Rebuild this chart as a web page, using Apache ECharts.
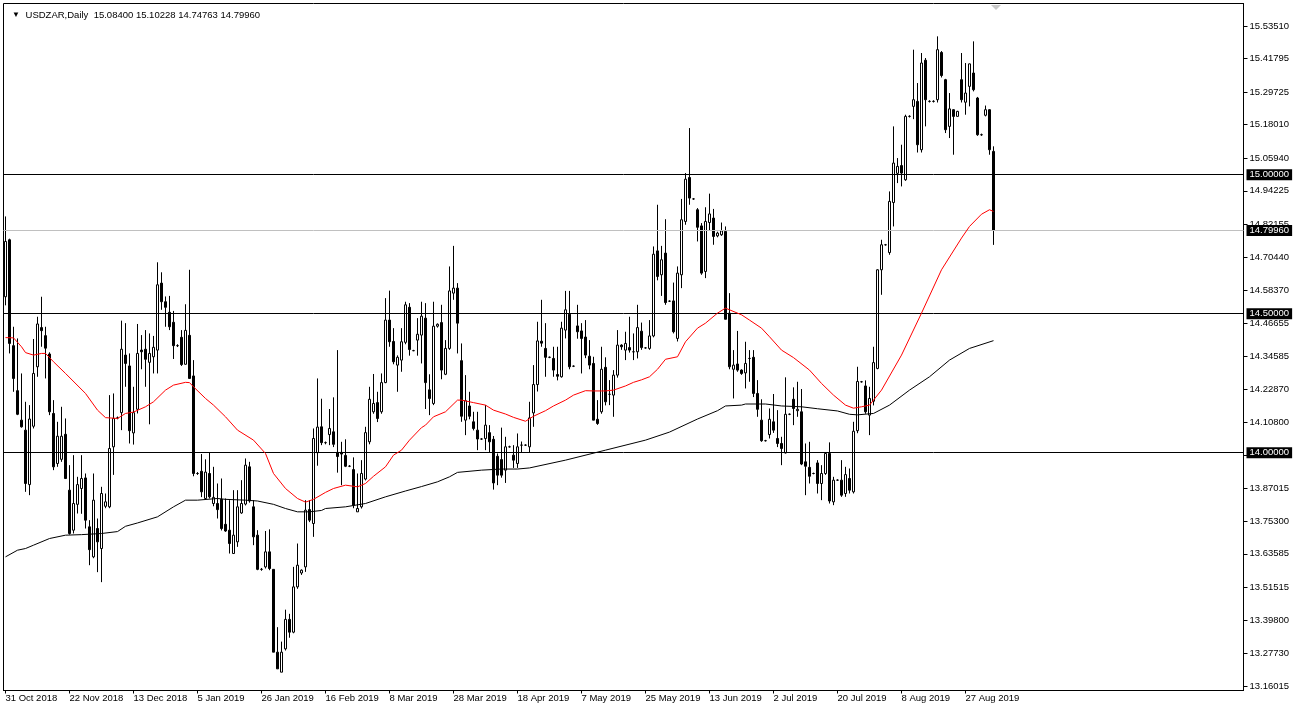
<!DOCTYPE html>
<html><head><meta charset="utf-8">
<script src="https://cdn.jsdelivr.net/npm/echarts@6/dist/echarts.min.js"></script>
<style>html,body{margin:0;padding:0;background:#fff;overflow:hidden}#c{width:1298px;height:712px}</style>
</head><body><div id="c"></div>
<script>
const xTickLabels = ['31 Oct 2018','22 Nov 2018','13 Dec 2018','5 Jan 2019','26 Jan 2019','16 Feb 2019','8 Mar 2019','28 Mar 2019','18 Apr 2019','7 May 2019','25 May 2019','13 Jun 2019','2 Jul 2019','20 Jul 2019','8 Aug 2019','27 Aug 2019'];
const yTickValues = [15.53510,15.41795,15.29725,15.18010,15.05940,14.94225,14.82155,14.70440,14.58370,14.46655,14.34585,14.22870,14.10800,13.99085,13.87015,13.75300,13.63585,13.51515,13.39800,13.27730,13.16015];

const open = [
14.561,14.766,14.385,14.223,14.117,14.081,13.885,14.095,14.309,14.450,
14.421,14.355,14.141,13.961,13.976,14.066,13.865,13.721,13.814,13.871,
13.909,13.733,13.625,13.727,13.655,13.807,13.805,14.021,14.125,14.144,
14.351,14.312,14.071,14.156,14.369,14.372,14.325,14.345,14.369,14.610,
14.543,14.505,14.469,14.385,14.415,14.318,14.422,14.276,13.925,13.933,
13.835,13.925,13.817,13.817,13.832,13.742,13.721,13.637,13.679,13.783,
13.815,13.949,13.805,13.703,13.580,13.589,13.643,13.580,13.282,13.210,
13.294,13.400,13.354,13.517,13.567,13.589,13.795,13.745,14.000,14.093,
14.036,14.065,14.075,14.001,14.001,13.990,13.951,13.939,13.787,13.805,
13.905,14.039,14.147,14.180,14.147,14.252,14.477,14.400,14.315,14.333,
14.397,14.523,14.367,14.405,14.423,14.484,14.226,14.177,14.455,14.468,
14.282,14.375,14.574,14.592,14.331,14.117,14.168,14.111,14.081,14.049,
14.051,14.072,14.048,13.987,13.975,13.937,14.021,13.991,13.961,14.027,
14.027,14.021,14.143,14.245,14.401,14.375,14.343,14.339,14.281,14.273,
14.441,14.498,14.311,14.456,14.438,14.416,14.347,14.321,14.120,14.147,
14.307,14.210,14.207,14.279,14.387,14.369,14.378,14.363,14.363,14.437,
14.377,14.375,14.420,14.726,14.640,14.718,14.545,14.546,14.411,14.640,
14.832,14.990,14.913,14.874,14.816,14.652,14.828,14.844,14.780,14.784,
14.796,14.502,14.300,14.319,14.297,14.287,14.339,14.343,14.213,14.117,
14.043,14.065,14.111,14.051,14.033,13.999,14.138,14.192,14.151,14.147,
13.967,13.947,13.925,13.963,13.889,13.925,13.997,13.823,13.901,13.901,
13.853,13.907,13.859,14.079,14.255,14.240,14.135,14.185,14.303,14.658,
14.748,14.720,14.900,15.005,15.033,14.982,15.210,15.246,15.264,15.090,
15.412,15.264,15.264,15.270,15.440,15.342,15.174,15.234,15.210,15.342,
15.261,15.318,15.366,15.276,15.144,15.214,15.234,15.084];
const high = [
14.850,14.770,14.453,14.411,14.285,14.183,14.171,14.409,14.489,14.561,
14.453,14.361,14.189,14.111,14.165,14.123,13.955,13.991,13.913,13.991,
13.925,13.757,13.925,13.763,13.877,13.853,14.207,14.213,14.130,14.475,
14.466,14.357,14.237,14.463,14.423,14.441,14.429,14.420,14.685,14.649,
14.562,14.564,14.510,14.390,14.441,14.534,14.658,14.333,13.930,13.995,
13.976,13.999,13.949,13.889,13.907,13.835,13.829,13.865,13.865,13.901,
13.979,13.967,13.829,13.721,13.585,13.718,13.724,13.580,13.372,13.320,
13.435,13.420,13.589,13.673,13.580,13.829,13.829,14.087,14.267,14.194,
14.040,14.157,14.199,14.369,14.039,14.048,13.955,13.983,13.925,13.973,
14.093,14.237,14.283,14.219,14.285,14.556,14.583,14.448,14.350,14.448,
14.543,14.538,14.370,14.484,14.543,14.538,14.282,14.543,14.465,14.532,
14.405,14.670,14.744,14.610,14.393,14.279,14.219,14.147,14.147,14.052,
14.171,14.099,14.060,13.997,14.090,14.057,14.025,14.027,14.069,14.040,
14.030,14.183,14.315,14.471,14.550,14.466,14.346,14.381,14.381,14.471,
14.582,14.582,14.314,14.532,14.466,14.477,14.405,14.345,14.189,14.381,
14.343,14.261,14.297,14.441,14.390,14.435,14.489,14.429,14.532,14.468,
14.380,14.477,14.742,14.892,14.744,14.840,14.548,14.612,14.670,14.913,
15.006,15.168,14.916,14.880,14.826,14.883,14.932,14.877,14.795,14.828,
14.814,14.574,14.369,14.438,14.300,14.399,14.369,14.369,14.261,14.192,
14.046,14.159,14.211,14.153,14.057,14.271,14.141,14.235,14.255,14.229,
14.033,14.039,13.928,13.973,13.955,14.000,14.037,13.913,13.904,13.973,
13.949,13.943,14.111,14.309,14.258,14.260,14.237,14.381,14.660,14.766,
14.751,14.940,15.174,15.060,15.108,15.216,15.214,15.450,15.330,15.438,
15.420,15.268,15.268,15.498,15.445,15.345,15.294,15.236,15.230,15.438,
15.402,15.400,15.480,15.280,15.148,15.249,15.236,15.10228];
const low = [
14.530,14.357,14.219,14.135,14.090,13.859,13.847,14.087,14.273,14.381,
14.267,14.135,13.937,13.949,13.967,13.905,13.705,13.709,13.781,13.780,
13.727,13.595,13.620,13.570,13.534,13.800,13.800,13.920,14.120,14.081,
14.237,14.033,14.029,14.141,14.300,14.237,14.102,14.285,14.285,14.514,
14.453,14.441,14.337,14.380,14.312,14.317,14.267,13.915,13.920,13.840,
13.835,13.835,13.807,13.763,13.720,13.715,13.637,13.637,13.661,13.780,
13.810,13.820,13.667,13.577,13.575,13.583,13.577,13.282,13.222,13.210,
13.288,13.334,13.350,13.510,13.560,13.571,13.750,13.697,13.953,14.027,
14.030,14.027,14.020,13.928,13.883,13.948,13.948,13.800,13.787,13.799,
13.900,14.030,14.140,14.110,14.140,14.250,14.381,14.318,14.219,14.291,
14.390,14.349,14.365,14.349,14.321,14.157,14.135,14.171,14.450,14.264,
14.279,14.370,14.550,14.357,14.111,14.063,14.120,14.080,14.009,14.046,
14.009,14.000,13.867,13.883,13.910,13.891,14.018,13.945,13.945,14.000,
14.024,14.000,14.093,14.220,14.381,14.273,14.340,14.273,14.260,14.270,
14.411,14.300,14.308,14.410,14.285,14.340,14.300,14.117,14.100,14.140,
14.170,14.171,14.129,14.270,14.370,14.333,14.360,14.333,14.339,14.370,
14.374,14.370,14.415,14.620,14.564,14.532,14.542,14.429,14.400,14.592,
14.820,14.892,14.910,14.760,14.640,14.628,14.800,14.748,14.775,14.780,
14.480,14.300,14.195,14.291,14.280,14.231,14.255,14.200,14.129,14.039,
14.040,14.051,14.071,14.020,13.955,13.997,14.135,14.099,14.129,13.955,
13.847,13.889,13.922,13.853,13.829,13.920,13.817,13.811,13.898,13.841,
13.841,13.853,13.853,14.070,14.252,14.140,14.063,14.170,14.300,14.568,
14.745,14.712,14.814,14.970,14.958,14.978,15.206,15.200,15.080,15.080,
15.174,15.260,15.260,15.260,15.350,15.150,15.132,15.072,15.210,15.260,
15.216,15.246,15.300,15.140,15.140,15.210,15.072,14.74763];
const close = [
14.760,14.393,14.267,14.138,14.093,13.889,14.121,14.285,14.463,14.439,
14.376,14.147,13.949,14.059,14.059,13.907,13.709,13.817,13.885,13.907,
13.757,13.651,13.829,13.679,13.853,13.823,14.015,14.123,14.125,14.372,
14.321,14.079,14.144,14.357,14.363,14.336,14.357,14.379,14.604,14.543,
14.523,14.453,14.385,14.385,14.317,14.440,14.267,13.925,13.925,13.859,
13.930,13.841,13.839,13.795,13.727,13.718,13.673,13.703,13.805,13.817,
13.955,13.826,13.697,13.580,13.580,13.643,13.583,13.282,13.222,13.282,
13.400,13.354,13.517,13.595,13.577,13.793,13.757,14.051,14.092,14.036,
14.036,14.087,14.030,13.986,13.995,13.951,13.951,13.811,13.799,13.925,
14.072,14.192,14.177,14.123,14.252,14.477,14.399,14.327,14.343,14.399,
14.532,14.371,14.367,14.426,14.491,14.252,14.195,14.455,14.462,14.297,
14.375,14.582,14.592,14.466,14.131,14.187,14.131,14.087,14.049,14.049,
14.099,14.039,13.891,13.919,13.919,14.021,14.021,13.973,14.021,14.027,
14.027,14.125,14.245,14.402,14.394,14.343,14.343,14.297,14.275,14.448,
14.514,14.309,14.311,14.435,14.411,14.351,14.315,14.117,14.105,14.300,
14.183,14.210,14.279,14.387,14.381,14.393,14.369,14.363,14.450,14.378,
14.377,14.420,14.714,14.634,14.694,14.540,14.545,14.435,14.646,14.838,
14.984,14.916,14.913,14.811,14.646,14.832,14.859,14.778,14.790,14.798,
14.480,14.309,14.315,14.297,14.285,14.321,14.339,14.213,14.156,14.043,
14.043,14.120,14.081,14.033,14.015,14.138,14.138,14.159,14.156,13.959,
13.951,13.915,13.925,13.889,13.925,13.997,13.826,13.901,13.901,13.847,
13.921,13.865,14.077,14.256,14.255,14.147,14.195,14.324,14.658,14.748,
14.748,14.904,15.042,15.030,15.006,15.210,15.210,15.270,15.108,15.402,
15.270,15.264,15.264,15.450,15.357,15.162,15.237,15.210,15.228,15.270,
15.294,15.399,15.306,15.144,15.144,15.234,15.090,14.7996];

// moving averages: [bar index, value]
const maRed = [[0,14.414],[2,14.413],[4,14.381],[5,14.360],[7,14.351],[9,14.357],[10,14.357],[12,14.327],[15,14.285],[20,14.213],[23,14.153],[25,14.126],[28,14.123],[30,14.141],[32,14.146],[35,14.165],[37,14.183],[40,14.225],[42,14.243],[45,14.253],[46,14.252],[47,14.237],[50,14.195],[52,14.171],[55,14.129],[58,14.081],[62,14.045],[65,13.997],[67,13.925],[70,13.871],[73,13.835],[75,13.822],[77,13.832],[80,13.857],[82,13.871],[85,13.883],[88,13.877],[90,13.889],[92,13.915],[95,13.949],[97,13.991],[99,14.009],[101,14.045],[104,14.090],[105,14.099],[107,14.129],[110,14.147],[113,14.189],[114,14.189],[117,14.180],[120,14.171],[122,14.153],[125,14.139],[127,14.127],[130,14.113],[132,14.131],[135,14.151],[137,14.168],[140,14.189],[142,14.207],[145,14.223],[147,14.222],[150,14.222],[152,14.225],[155,14.240],[157,14.253],[159,14.262],[161,14.273],[163,14.300],[165,14.336],[168,14.345],[170,14.399],[173,14.448],[175,14.466],[178,14.502],[180,14.520],[181,14.514],[184,14.496],[186,14.477],[189,14.448],[191,14.417],[194,14.369],[197,14.342],[201,14.297],[204,14.249],[207,14.207],[210,14.171],[212,14.160],[214,14.165],[216,14.171],[219,14.225],[224,14.351],[229,14.502],[234,14.658],[239,14.772],[241,14.814],[244,14.858],[246,14.874],[247,14.868]];
const maBlack = [[0,13.625],[3,13.649],[5,13.655],[7,13.667],[11,13.691],[15,13.703],[19,13.705],[24,13.709],[28,13.716],[30,13.735],[33,13.747],[38,13.769],[42,13.805],[45,13.829],[48,13.829],[53,13.835],[55,13.832],[60,13.829],[63,13.826],[67,13.814],[70,13.799],[73,13.787],[76,13.787],[79,13.792],[80,13.799],[85,13.805],[90,13.817],[95,13.841],[100,13.862],[104,13.878],[108,13.895],[111,13.913],[113,13.929],[119,13.937],[124,13.941],[128,13.941],[131,13.945],[140,13.973],[150,14.009],[160,14.045],[166,14.074],[173,14.121],[178,14.151],[180,14.168],[184,14.171],[185,14.175],[190,14.175],[194,14.168],[199,14.165],[203,14.158],[208,14.150],[211,14.138],[213,14.136],[217,14.141],[221,14.171],[226,14.225],[231,14.273],[236,14.333],[241,14.375],[247,14.403]];

const levelLines = [15.0, 14.5, 14.0];
const bidPrice = 14.7996;
const headerText = 'USDZAR,Daily  15.08400 15.10228 14.74763 14.79960';

const slots = 310;
const categories = Array.from({length: slots}, (_, i) => String(i));
const candles = open.map((o, i) => [o, close[i], low[i], high[i]]);

const FONT = 'Liberation Sans';
const chart = echarts.init(document.getElementById('c'), null, {renderer: 'canvas'});
const showIdx = (i) => i % 16 === 0 && i / 16 < xTickLabels.length;

const lineItems = levelLines.map(v => ({yAxis: v, name: v.toFixed(5)}))
  .concat([{yAxis: bidPrice, name: bidPrice.toFixed(5), lineStyle: {color: '#c0c0c0', width: 1, type: 'solid'}}]);

chart.setOption({
  animation: false,
  backgroundColor: '#fff',
  title: {
    text: '{t|▼} ' + headerText,
    left: 7, top: 5,
    textStyle: {fontSize: 9.5, fontWeight: 'normal', color: '#000', fontFamily: FONT,
      rich: {t: {fontSize: 8, color: '#000', padding: [0, 3, 0, 0]}}}
  },
  graphic: [{type: 'polygon', shape: {points: [[991, 5], [1001, 5], [996, 10]]}, style: {fill: '#c8c8c8'}}],
  grid: {left: 3.5, right: 54.5, top: 3.5, bottom: 21.5, show: true, borderColor: '#000', borderWidth: 1, backgroundColor: '#fff'},
  xAxis: {
    type: 'category', data: categories, boundaryGap: true,
    axisLine: {show: true, lineStyle: {color: '#000', width: 1}},
    axisTick: {show: true, interval: (i) => showIdx(i), alignWithLabel: true, length: 3, lineStyle: {color: '#000'}},
    axisLabel: {interval: (i) => showIdx(i), formatter: (v, i) => xTickLabels[Math.round(i / 16)] || '',
      align: 'left', margin: 3, fontSize: 9.5, color: '#000', fontFamily: FONT},
    splitLine: {show: false}
  },
  yAxis: {
    type: 'value', position: 'right', min: 13.1441, max: 15.6162,
    axisLine: {show: true, lineStyle: {color: '#000', width: 1}},
    axisTick: {show: true, customValues: yTickValues, length: 4, lineStyle: {color: '#000'}},
    axisLabel: {customValues: yTickValues, formatter: (v) => v.toFixed(5), margin: 6, fontSize: 9.5, color: '#000', fontFamily: FONT},
    splitLine: {show: false}
  },
  series: [
    {
      type: 'candlestick', data: candles, barWidth: 2,
      itemStyle: {color: '#fff', color0: '#000', borderColor: '#000', borderColor0: '#000', borderWidth: 1},
      markLine: {
        silent: true, symbol: ['none', 'none'], animation: false, precision: 5,
        lineStyle: {color: '#000', width: 1, type: 'solid'},
        label: {position: 'end', formatter: (p) => p.name, backgroundColor: '#000', color: '#fff',
          padding: [1, 3, 0, 3], fontSize: 9.5, fontFamily: FONT, distance: 3},
        data: lineItems
      }
    },
    {type: 'line', data: maRed, showSymbol: false, symbol: 'none', lineStyle: {color: '#ff0000', width: 1}, z: 5, silent: true},
    {type: 'line', data: maBlack, showSymbol: false, symbol: 'none', lineStyle: {color: '#000', width: 1}, z: 5, silent: true}
  ]
});
</script></body></html>
